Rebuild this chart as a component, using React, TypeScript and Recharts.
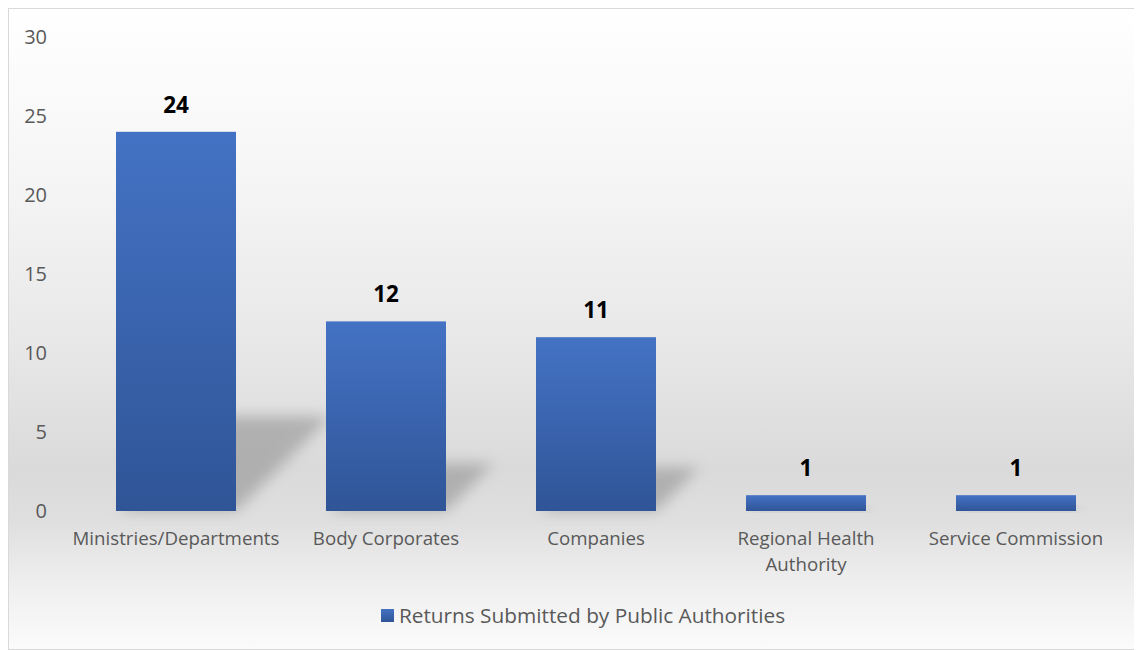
import React from "react";
import {
  BarChart,
  Bar,
  XAxis,
  YAxis,
  Legend,
  LabelList,
  Text,
} from "recharts";

const categories = [
  "Ministries/Departments",
  "Body Corporates",
  "Companies",
  "Regional Health Authority",
  "Service Commission",
];
const returnsSubmitted = [24, 12, 11, 1, 1];
const yTicks = [0, 5, 10, 15, 20, 25, 30];
const seriesName = "Returns Submitted by Public Authorities";

const data = categories.map((name, i) => ({
  name,
  returns: returnsSubmitted[i],
}));

const FONT = "'Open Sans', 'Noto Sans', sans-serif";

const ShadowBar = (props: any) => {
  const { x, y, width, height } = props;
  if (!height || height <= 0) return null;
  const bottom = y + height;
  const s = height * 0.25;
  const pts = [
    [x + 4, bottom],
    [x + width, bottom],
    [x + width + s, bottom - s],
    [x + s + 4, bottom - s],
  ]
    .map((p) => p.join(","))
    .join(" ");
  return (
    <g>
      <polygon points={pts} fill="#8c8c8c" opacity={0.55} filter="url(#barShadow)" />
      <rect x={x} y={y} width={width} height={height} fill="url(#barFill)" />
    </g>
  );
};

const CategoryTick = (props: any) => {
  const { x, y, payload } = props;
  return (
    <Text
      x={x}
      y={y}
      width={185}
      textAnchor="middle"
      verticalAnchor="start"
      fill="#595959"
      fontSize={18.7}
      fontFamily={FONT}
      style={{ fontSize: 18.7, fontFamily: FONT }}
      lineHeight={26}
    >
      {payload.value}
    </Text>
  );
};

const LegendBox = () => (
  <div
    style={{
      display: "flex",
      justifyContent: "center",
      alignItems: "center",
      height: 30,
      fontFamily: FONT,
      fontSize: 20.8,
      color: "#595959",
    }}
  >
    <span
      style={{
        width: 13,
        height: 13,
        marginRight: 5,
        background: "linear-gradient(#4472c4, #2f5597)",
        display: "inline-block",
      }}
    />
    {seriesName}
  </div>
);

export default function App() {
  return (
    <div
      style={{
        width: 1132,
        height: 640,
        border: "1px solid #d9d9d9",
        background:
          "linear-gradient(#ffffff 0%, #f6f6f6 25%, #e9e9e9 50%, #dadada 72%, #dfdfdf 80%, #efefef 90%, #fbfbfb 100%)",
      }}
    >
      <BarChart
        width={1132}
        height={640}
        data={data}
        margin={{ top: 28, right: 20, bottom: 48, left: 0 }}
        barSize={120}
      >
        <defs>
          <linearGradient id="barFill" x1="0" y1="0" x2="0" y2="1">
            <stop offset="0%" stopColor="#4472c4" />
            <stop offset="100%" stopColor="#2f5597" />
          </linearGradient>
          <filter id="barShadow" x="-50%" y="-50%" width="200%" height="200%">
            <feGaussianBlur stdDeviation="7" />
          </filter>
        </defs>
        <XAxis
          dataKey="name"
          axisLine={false}
          tickLine={false}
          tickSize={0}
          tickMargin={21}
          height={60}
          interval={0}
          tick={<CategoryTick />}
        />
        <YAxis
          width={62}
          domain={[0, 30]}
          ticks={yTicks}
          axisLine={false}
          tickLine={false}
          tickSize={0}
          tickMargin={24}
          tick={{ fill: "#595959", fontSize: 20, fontFamily: FONT }}
        />
        <Legend
          verticalAlign="bottom"
          content={<LegendBox />}
          wrapperStyle={{ bottom: 19, left: 18 }}
        />
        <Bar
          dataKey="returns"
          name={seriesName}
          fill="#4472c4"
          shape={<ShadowBar />}
          isAnimationActive={false}
        >
          <LabelList
            dataKey="returns"
            position="top"
            offset={19}
            fill="#000000"
            fontSize={22.5}
            fontWeight="bold"
            fontFamily={FONT}
          />
        </Bar>
      </BarChart>
    </div>
  );
}
